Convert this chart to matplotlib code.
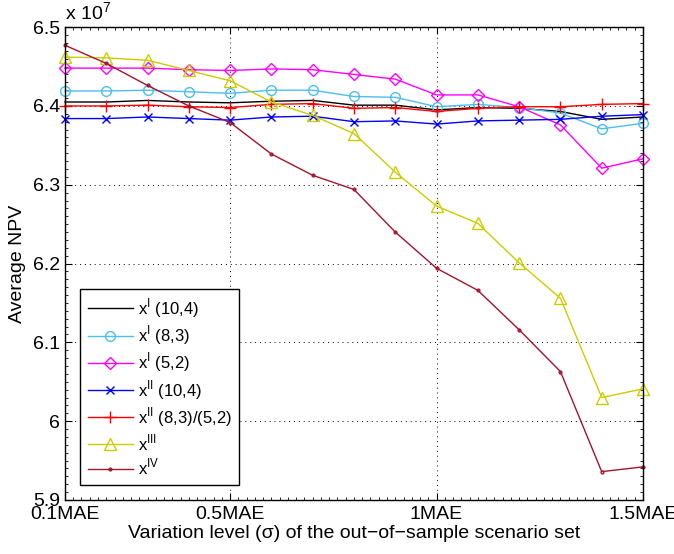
import matplotlib
matplotlib.use('Agg')
import matplotlib.pyplot as plt
from matplotlib.ticker import FuncFormatter, MultipleLocator

plt.rcParams['font.family'] = ['Liberation Sans', 'DejaVu Sans']
plt.rcParams['mathtext.fontset'] = 'custom'
plt.rcParams['mathtext.rm'] = 'Liberation Sans'

# variation level (multiples of MAE)
sigma = [0.1, 0.2, 0.3, 0.4, 0.5, 0.6, 0.7, 0.8, 0.9, 1.0, 1.1, 1.2, 1.3, 1.4, 1.5]
xtick_vals = [0.1, 0.5, 1.0, 1.5]
xtick_labels = ['0.1MAE', '0.5MAE', '1MAE', '1.5MAE']

# average NPV, in units of 1e7
npv_xI_10_4 = [6.405, 6.405, 6.407, 6.405, 6.404, 6.406, 6.407, 6.401, 6.401, 6.395, 6.398, 6.397, 6.393, 6.383, 6.386]
npv_xI_8_3 = [6.419, 6.419, 6.420, 6.418, 6.416, 6.420, 6.420, 6.412, 6.411, 6.399, 6.402, 6.398, 6.391, 6.371, 6.378]
npv_xI_5_2 = [6.448, 6.448, 6.448, 6.446, 6.445, 6.447, 6.446, 6.440, 6.434, 6.414, 6.414, 6.399, 6.376, 6.321, 6.333]
npv_xII_10_4 = [6.384, 6.384, 6.386, 6.384, 6.382, 6.386, 6.387, 6.380, 6.381, 6.377, 6.381, 6.382, 6.383, 6.387, 6.389]
npv_xII_8_3 = [6.400, 6.400, 6.401, 6.399, 6.398, 6.402, 6.403, 6.397, 6.398, 6.393, 6.397, 6.399, 6.399, 6.402, 6.403]
npv_xIII = [6.462, 6.461, 6.458, 6.445, 6.432, 6.405, 6.388, 6.365, 6.316, 6.273, 6.251, 6.201, 6.156, 6.030, 6.041]
npv_xIV = [6.477, 6.454, 6.426, 6.400, 6.379, 6.339, 6.312, 6.294, 6.240, 6.194, 6.166, 6.116, 6.063, 5.936, 5.942]

scale = 1e7

fig = plt.figure(figsize=(6.74, 5.54), dpi=100)
ax = fig.add_axes([0.0964, 0.0975, 0.8576, 0.8535])

series = [
    (npv_xI_10_4, '#000000', None, 7, r'x$^{\mathrm{I}}$ (10,4)'),
    (npv_xI_8_3, '#4DBEEE', 'o', 7, r'x$^{\mathrm{I}}$ (8,3)'),
    (npv_xI_5_2, '#FF00FF', 'D', 6, r'x$^{\mathrm{I}}$ (5,2)'),
    (npv_xII_10_4, '#0000FF', 'x', 6, r'x$^{\mathrm{II}}$ (10,4)'),
    (npv_xII_8_3, '#FF0000', '+', 8, r'x$^{\mathrm{II}}$ (8,3)/(5,2)'),
    (npv_xIII, '#CCCC00', '^', 8, r'x$^{\mathrm{III}}$'),
    (npv_xIV, '#A2142F', '.', 4, r'x$^{\mathrm{IV}}$'),
]
for vals, col, mk, ms, lab in series:
    ax.plot(sigma, [v * scale for v in vals], color=col, marker=mk, markersize=ms,
            markerfacecolor='none', markeredgecolor=col, linewidth=1, label=lab,
            clip_on=False, zorder=3)

ax.set_xlim(0.1, 1.5)
ax.set_ylim(5.9e7, 6.5e7)
ax.set_xticks(xtick_vals)
ax.set_xticklabels(xtick_labels)
ax.yaxis.set_major_locator(MultipleLocator(0.1e7))
ax.yaxis.set_minor_locator(MultipleLocator(0.01e7))
ax.xaxis.set_minor_locator(MultipleLocator(0.02))
ax.yaxis.set_major_formatter(FuncFormatter(lambda v, p: '%g' % round(v / scale, 2)))
ax.tick_params(which='both', direction='in', top=True, right=True, labelsize=14)
ax.tick_params(which='major', length=5)
ax.tick_params(which='minor', length=2.5)
ax.tick_params(axis='x', pad=4)
ax.grid(True, which='major', linestyle=(0, (1, 4)), color='black', linewidth=0.7)
for s in ax.spines.values():
    s.set_linewidth(1)
    s.set_zorder(4)

ax.set_xlabel('Variation level (σ) of the out\u2212of\u2212sample scenario set', fontsize=14, labelpad=2)
ax.set_ylabel('Average NPV', fontsize=14, labelpad=5)
ax.text(0.0, 1.006, r'x 10$^{7}$', transform=ax.transAxes, fontsize=14, ha='left', va='bottom')

leg = ax.legend(loc='lower left', bbox_to_anchor=(0.026, 0.032), borderaxespad=0,
                fontsize=12, fancybox=False, edgecolor='black', framealpha=1,
                borderpad=0.45, labelspacing=0.22, handlelength=2.7, handletextpad=0.3)
leg.get_frame().set_linewidth(1)
leg.set_zorder(5)

fig.savefig('out.png', dpi=100)
